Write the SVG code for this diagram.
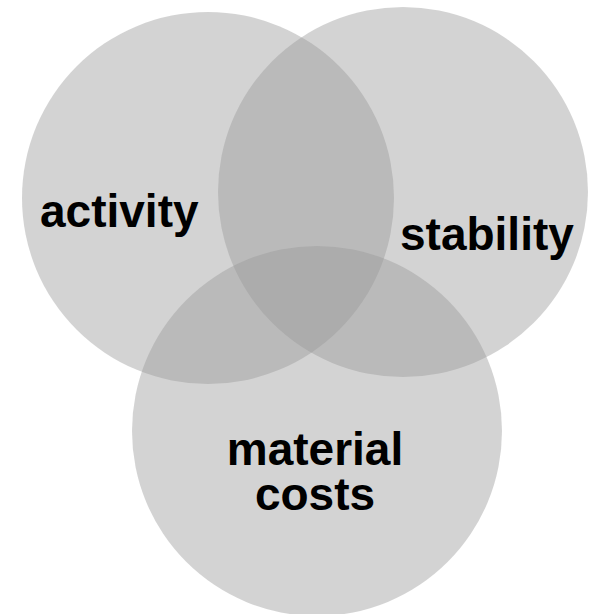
<svg xmlns="http://www.w3.org/2000/svg" width="592" height="614" viewBox="0 0 592 614">
<style>
.c{fill:#999999;fill-opacity:0.43;stroke:none}
.t{font-family:"Liberation Sans",Arial,Helvetica,sans-serif;font-weight:bold;font-size:46px;fill:#000}
</style>
<rect width="592" height="614" fill="#ffffff"/>
<g id="activity"><circle class="c" cx="208" cy="198" r="186"/></g>
<g id="stability"><circle class="c" cx="403" cy="192" r="185"/></g>
<g id="material-costs"><circle class="c" cx="317" cy="431" r="185"/></g>
<g id="labels">
<text class="t" x="40" y="227">activity</text>
<text class="t" x="400" y="250">stability</text>
<text class="t" x="315" y="465" text-anchor="middle">material</text>
<text class="t" x="315" y="510" text-anchor="middle">costs</text>
</g>
<g id="connectors"></g>
</svg>
